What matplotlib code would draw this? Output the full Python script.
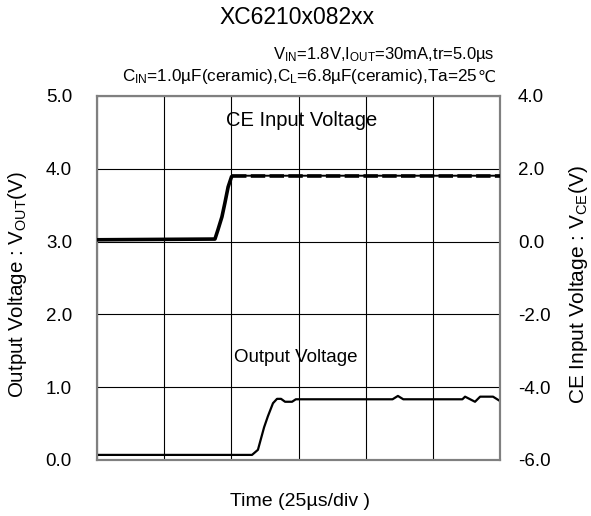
import matplotlib
matplotlib.use("Agg")
import matplotlib.pyplot as plt
import numpy as np

plt.rcParams["font.family"] = ["Liberation Sans", "DejaVu Sans"]
plt.rcParams["mathtext.default"] = "regular"
plt.rcParams["axes.unicode_minus"] = False

# time axis in microseconds (25 us/div, 6 divisions)
time_ticks = [0, 25, 50, 75, 100, 125, 150]

# CE input voltage (right axis)
ce_t = [0, 43.9, 45.0, 46.5, 47.6, 48.8, 50.2, 150]
ce_v = [0.05, 0.07, 0.32, 0.68, 1.06, 1.50, 1.81, 1.81]

# output voltage (left axis)
out_t = [0, 57.7, 59.9, 62.2, 63.6, 65.5, 67.0, 68.5, 70.0, 72.6, 74.0,
         110.0, 112.0, 114.0, 136.0, 137.0, 140.7, 142.6, 147.4, 150]
out_v = [0.07, 0.07, 0.14, 0.45, 0.60, 0.78, 0.84, 0.84, 0.80, 0.80, 0.834,
         0.834, 0.88, 0.834, 0.834, 0.87, 0.80, 0.87, 0.87, 0.81]

left_ticks = [0.0, 1.0, 2.0, 3.0, 4.0, 5.0]
right_ticks = [-6.0, -4.0, -2.0, 0.0, 2.0, 4.0]

fig = plt.figure(figsize=(5.91, 5.16), dpi=100)
ax = fig.add_axes([97 / 591, 1 - 460 / 516, 403 / 591, 364 / 516])
ax2 = ax.twinx()

ax.set_xlim(0, 150)
ax.set_ylim(0, 5)
ax2.set_ylim(-6, 4)
ax.set_xticks(time_ticks)
ax.set_xticklabels([])
ax.set_yticks(left_ticks)
ax.set_yticklabels([f"{v:.1f}" for v in left_ticks])
ax2.set_yticks(right_ticks)
ax2.set_yticklabels([f"{v:.1f}" for v in right_ticks])

ax.grid(True, color="black", linewidth=0.8)
ax.set_axisbelow(True)
ax.tick_params(axis="both", length=0, labelsize=13.5, pad=18)
ax2.tick_params(axis="y", length=0, labelsize=13.5, pad=13)
for a in (ax, ax2):
    for s in a.spines.values():
        s.set_color("#808080")
        s.set_linewidth(1.5)

# traces
ax.plot(out_t, out_v, color="black", linewidth=1.6, zorder=3)
ce_t_arr = np.array(ce_t)
ce_v_arr = np.array(ce_v)
ax2.plot(ce_t_arr, ce_v_arr, color="black", linewidth=1.4, zorder=3)
low = ce_t_arr <= 50.2
high = ce_t_arr >= 50.2
ax2.plot(ce_t_arr[low], ce_v_arr[low], color="black", linewidth=2.6,
         solid_capstyle="butt", zorder=3)
ax2.plot(ce_t_arr[high], ce_v_arr[high], color="black", linewidth=2.6,
         dashes=(4, 1.2), zorder=3)

ax.text(76, 4.66, "CE Input Voltage", ha="center", va="center", fontsize=14.5)
ax.text(74, 1.41, "Output Voltage", ha="center", va="center", fontsize=13.5)

fig.text(18 / 591, 1 - 285 / 516, "Output Voltage : $V_{OUT}$(V)", rotation=90,
         ha="center", va="center", fontsize=14.8)
fig.text(578 / 591, 1 - 285 / 516, "CE Input Voltage : $V_{CE}$(V)", rotation=90,
         ha="center", va="center", fontsize=15)

fig.text(300 / 591, 1 - 502 / 516, "Time (25µs/div )", ha="center", va="center", fontsize=14)
fig.text(297 / 591, 1 - 18 / 516, "XC6210x082xx", ha="center", va="center", fontsize=16.5)
fig.text(495 / 591, 1 - 55 / 516, "$V_{IN}$=1.8V,$I_{OUT}$=30mA,tr=5.0µs",
         ha="right", va="center", fontsize=12)

# second condition line: the degree-Celsius sign is drawn in DejaVu Sans
renderer = fig.canvas.get_renderer()
deg = fig.text(495 / 591, 1 - 77 / 516, "℃", ha="right", va="center",
               fontsize=11.5, family="DejaVu Sans")
deg_left = deg.get_window_extent(renderer).x0
fig.text(deg_left / fig.bbox.width, 1 - 77 / 516,
         "$C_{IN}$=1.0µF(ceramic),$C_L$=6.8µF(ceramic),Ta=25",
         ha="right", va="center", fontsize=12.3)

fig.savefig("out.png", dpi=100)
